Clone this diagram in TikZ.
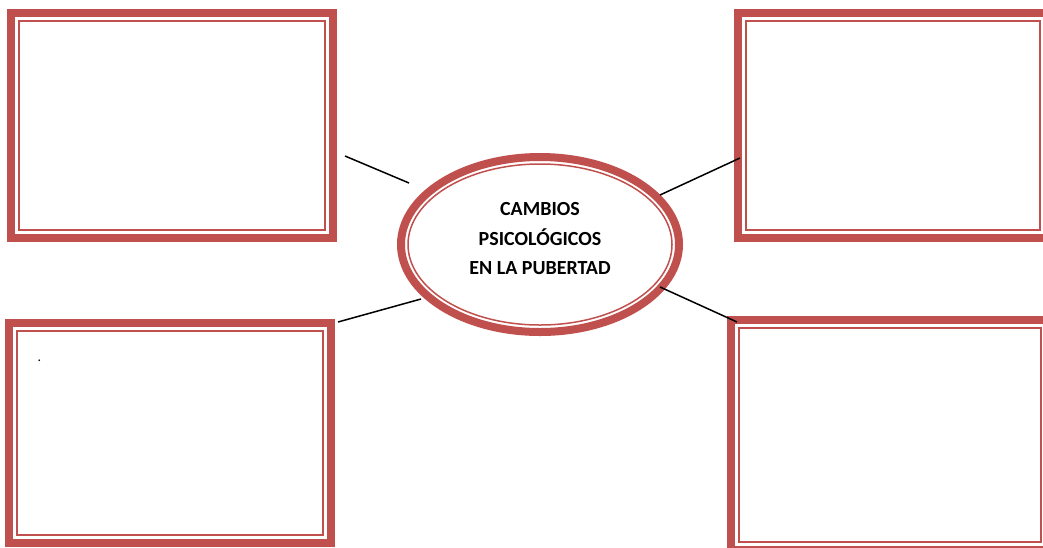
\documentclass[tikz,border=0pt]{standalone}
\usepackage{fontspec}
\setmainfont{Carlito}
\usetikzlibrary{shapes.geometric,calc}
\definecolor{rojoborde}{HTML}{C0504D}

\begin{document}
\begin{tikzpicture}[x=1pt, y=-1pt,
  caja/.style={rectangle, draw=rojoborde, line width=8pt, inner sep=0pt},
  fina/.style={draw=rojoborde, line width=2.5pt},
  conector/.style={line width=1.5pt}]

\useasboundingbox (0,0) rectangle (1043,547);

% --- Recuadros (borde grueso + filete interior) ---
\node[caja, minimum width=322pt, minimum height=225pt] (cajaSI) at (172,125.5) {};
\node[caja, minimum width=310pt, minimum height=225pt] (cajaSD) at (893,125.5) {};
\node[caja, minimum width=322pt, minimum height=220pt] (cajaII) at (170,433) {};
\node[caja, minimum width=318pt, minimum height=230pt] (cajaID) at (890,435) {};
\foreach \c in {cajaSI,cajaSD,cajaII,cajaID}
  \draw[fina] ($(\c.north west)+(12,12)$) rectangle ($(\c.south east)+(-12,-12)$);

% --- Elipse central ---
\node[ellipse, draw=rojoborde, line width=8pt, inner sep=0pt,
      minimum width=278pt, minimum height=175pt] (centro) at (540,244.5) {};
\node[ellipse, draw=rojoborde, line width=1.5pt, inner sep=0pt,
      minimum width=264pt, minimum height=161pt] (centroint) at (centro) {};
\node[font=\bfseries\fontsize{20}{29.5}\selectfont, align=center] (titulo) at (540,239)
      {CAMBIOS\\PSICOLÓGICOS\\EN LA PUBERTAD};

% punto suelto en el recuadro inferior izquierdo
\node[anchor=base west, inner sep=0pt, font=\fontsize{14}{14}\selectfont] (punto) at (37.5,361) {.};

% --- Conectores ---
\coordinate (a1) at (345,156); \coordinate (b1) at (409,183);
\coordinate (a2) at (660,195); \coordinate (b2) at (740,158);
\coordinate (a3) at (338,322); \coordinate (b3) at (421,299);
\coordinate (a4) at (660,287); \coordinate (b4) at (737,322);
\foreach \i in {1,...,4}
  \draw[conector] (a\i) -- (b\i);

\end{tikzpicture}
\end{document}
